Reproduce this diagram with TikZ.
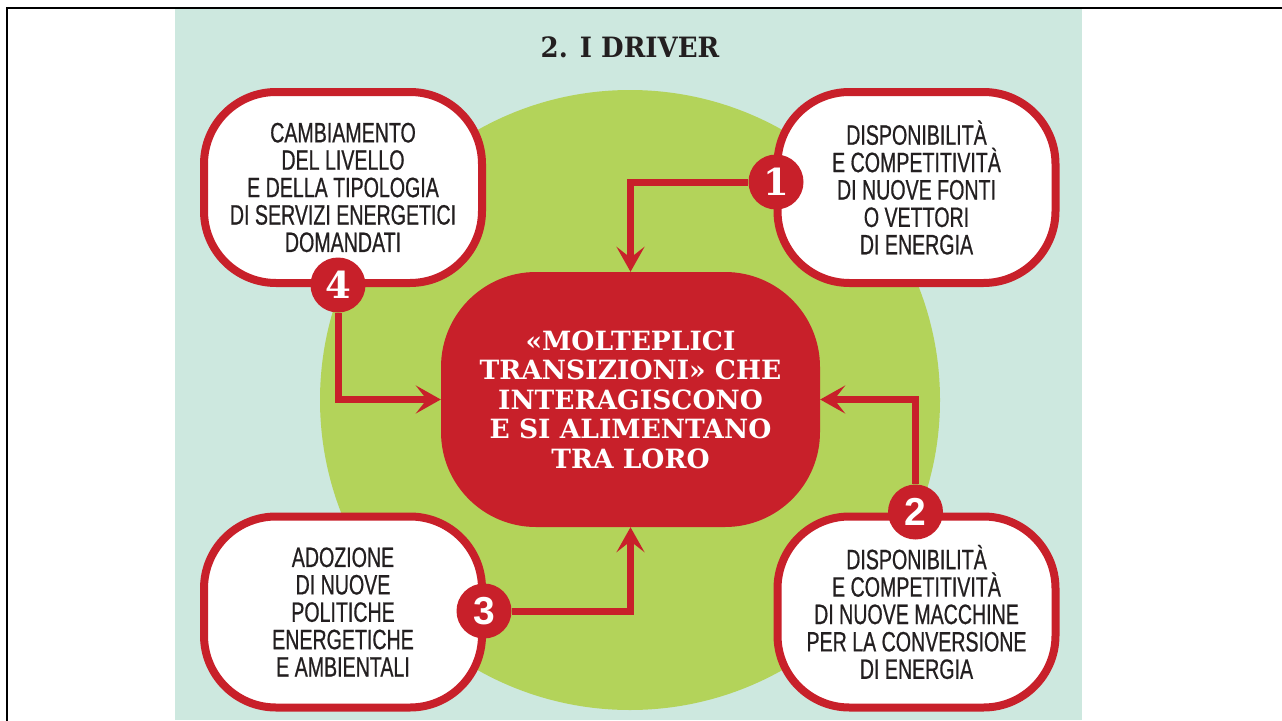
\documentclass[tikz,border=0pt]{standalone}
\usepackage{fontspec}
\setmainfont{Liberation Sans}
\newfontfamily\boxfont[FakeStretch=0.70,FakeBold=0.6]{Liberation Sans}
\newfontfamily\slabfont{DejaVu Serif}
\newfontfamily\titlefont[FakeStretch=0.93]{DejaVu Serif}
\usetikzlibrary{arrows.meta}
\definecolor{drred}{HTML}{C8202A}
\definecolor{mint}{HTML}{CDE8DF}
\definecolor{lime}{HTML}{B3D35A}
\definecolor{ink}{HTML}{231F20}
\begin{document}
\begin{tikzpicture}[x=1pt,y=-1pt,
  driver/.style={draw=drred, line width=8pt, fill=white, rounded corners=72pt,
    minimum width=278pt, minimum height=191pt, inner sep=0pt, align=center,
    text=ink, font=\boxfont\fontsize{28}{27.4}\selectfont},
  core/.style={fill=drred, rounded corners=95pt, minimum width=379pt,
    minimum height=255pt, inner sep=0pt, align=center, text=white,
    font=\slabfont\bfseries\fontsize{26.5}{29.5}\selectfont},
  conn/.style={draw=drred, line width=7pt,
    -{Stealth[length=25pt,width=28pt,inset=11pt]}},
  numc/.style={circle, fill=drred, minimum size=55pt, inner sep=0pt, text=white},
  numserif/.style={font=\slabfont\bfseries\fontsize{37}{37}\selectfont},
  numsans/.style={font=\bfseries\fontsize{39}{39}\selectfont}]
\useasboundingbox (0,0) rectangle (1282,720);
\fill[white] (0,0) rectangle (1282,720);
\fill[mint] (175,9) rectangle (1082,720);
\draw[line width=2.5pt] (7,721) -- (7,8) -- (1283,8);
\fill[lime] (630,400) circle[radius=310];
\node[font=\titlefont\bfseries\fontsize{28}{28}\selectfont, text=ink] (title) at (630,47) {2. I DRIVER};
\node[driver] (b4) at (343,187.5) {CAMBIAMENTO\\DEL LIVELLO\\E DELLA TIPOLOGIA\\DI SERVIZI ENERGETICI\\DOMANDATI};
\node[driver] (b1) at (916.5,187.5) {DISPONIBILITÀ\\E COMPETITIVITÀ\\DI NUOVE FONTI\\O VETTORI\\DI ENERGIA};
\node[driver] (b3) at (343,612) {ADOZIONE\\DI NUOVE\\POLITICHE\\ENERGETICHE\\E AMBIENTALI};
\node[driver] (b2) at (916.5,612) {DISPONIBILITÀ\\E COMPETITIVITÀ\\DI NUOVE MACCHINE\\PER LA CONVERSIONE\\DI ENERGIA};
\node[core] (core) at (630.5,399.5) {«MOLTEPLICI\\TRANSIZIONI» CHE\\INTERAGISCONO\\E SI ALIMENTANO\\TRA LORO};
\node[numc, numserif] (n1) at (776,182) {1};
\node[numc, numsans] (n2) at (915.5,512) {2};
\node[numc, numsans] (n3) at (484,611) {3};
\node[numc, numserif] (n4) at (338,285) {4};
\draw[conn] (n1.west) -| (core.north);
\draw[conn] (n2.north) |- (core.east);
\draw[conn] (n3.east) -| (core.south);
\draw[conn] (n4.south) |- (core.west);
\end{tikzpicture}
\end{document}
